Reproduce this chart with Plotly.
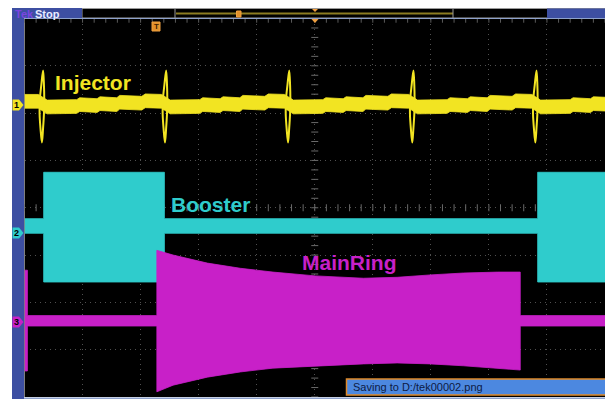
import plotly.graph_objects as go

# ---------------- data (screen divisions: x 0..10, y -4..4) ----------------
# Channel 1 : Injector (band centre level between kicks)
inj_t = [0.00, 0.24, 0.39, 0.90, 0.95, 1.25, 1.30, 1.59, 1.64, 2.02, 2.08, 2.36,
         2.51, 3.02, 3.07, 3.37, 3.42, 3.71, 3.76, 4.14, 4.20, 4.48,
         4.63, 5.14, 5.19, 5.49, 5.54, 5.83, 5.88, 6.26, 6.32, 6.62,
         6.77, 7.28, 7.33, 7.63, 7.68, 7.97, 8.02, 8.40, 8.46, 8.74,
         8.89, 9.40, 9.45, 9.75, 9.80, 10.0]
inj_v = [2.25, 2.25, 2.13, 2.14, 2.18, 2.16, 2.20, 2.18, 2.23, 2.21, 2.26, 2.25,
         2.13, 2.14, 2.18, 2.16, 2.20, 2.18, 2.23, 2.21, 2.26, 2.25,
         2.13, 2.14, 2.18, 2.16, 2.20, 2.18, 2.23, 2.21, 2.26, 2.25,
         2.13, 2.14, 2.18, 2.16, 2.20, 2.18, 2.23, 2.21, 2.26, 2.25,
         2.13, 2.14, 2.18, 2.16, 2.20, 2.19]
inj_noise = 0.145
inj_kick_t = [0.30, 2.42, 4.54, 6.68, 8.80]
inj_kick_top = 2.90
inj_kick_bottom = 1.38

# Channel 2 : Booster envelope
boo_t  = [0.00, 0.33, 0.33, 2.41, 2.41, 8.84, 8.84, 10.0]
boo_hi = [-0.23, -0.23, 0.75, 0.75, -0.23, -0.23, 0.75, 0.75]
boo_lo = [-0.54, -0.54, -1.57, -1.57, -0.54, -0.54, -1.57, -1.57]

# Channel 3 : MainRing envelope
mr_t  = [0.00, 0.05, 0.05, 2.28, 2.28, 2.56, 3.15, 3.72, 4.28, 5.01, 5.84, 6.42,
         6.99, 7.56, 8.15, 8.54, 8.54, 10.0]
mr_hi = [-1.32, -1.32, -2.28, -2.28, -0.90, -1.00, -1.17, -1.28, -1.36, -1.44,
         -1.49, -1.47, -1.42, -1.38, -1.36, -1.36, -2.28, -2.28]
mr_lo = [-3.45, -3.45, -2.50, -2.50, -3.89, -3.75, -3.58, -3.47, -3.39, -3.34,
         -3.30, -3.28, -3.30, -3.34, -3.39, -3.43, -2.50, -2.50]

labels = ["Injector", "Booster", "MainRing"]
status_text = "Saving to D:/tek00002.png"

YEL = "#f2e422"
CYA = "#2fcccc"
MAG = "#c820c8"
PANEL = "#3d4fa2"

W, H = 605, 399
def X(px): return px / W
def Y(py): return 1 - py / H

fig = go.Figure()

def band(t, hi, lo, color):
    xs = list(t) + list(reversed(t))
    ys = list(hi) + list(reversed(lo))
    fig.add_trace(go.Scatter(x=xs, y=ys, fill="toself", fillcolor=color,
                             mode="lines", line=dict(color=color, width=0.8),
                             hoverinfo="skip", showlegend=False))

# graticule centre ticks
cx = [i * 0.2 for i in range(51)]
cy = [-4 + i * 0.2 for i in range(41)]
fig.add_trace(go.Scatter(x=cx, y=[0] * len(cx), mode="markers",
                         marker=dict(symbol="line-ns", size=5, line=dict(color="#6a6a6a", width=1)),
                         hoverinfo="skip", showlegend=False))
fig.add_trace(go.Scatter(x=[5] * len(cy), y=cy, mode="markers",
                         marker=dict(symbol="line-ew", size=5, line=dict(color="#6a6a6a", width=1)),
                         hoverinfo="skip", showlegend=False))
# border ticks (top edge)
fig.add_trace(go.Scatter(x=cx, y=[3.97] * len(cx), mode="markers",
                         marker=dict(symbol="line-ns", size=4, line=dict(color="#5a5a5a", width=1)),
                         hoverinfo="skip", showlegend=False))

band(boo_t, boo_hi, boo_lo, CYA)
band(mr_t, mr_hi, mr_lo, MAG)
band(inj_t, [v + inj_noise for v in inj_v], [v - inj_noise for v in inj_v], YEL)

# injector kicks (lens-shaped double strokes)
lens_dx = [0.02, -0.01, -0.035, -0.04, -0.025, 0.00, 0.02, 0.035, 0.04, 0.035, 0.02]
lens_dy = [1.0, 0.6, 0.2, -0.2, -0.6, -1.0, -0.6, -0.2, 0.2, 0.6, 1.0]
mid = (inj_kick_top + inj_kick_bottom) / 2
half = (inj_kick_top - inj_kick_bottom) / 2
kx, ky = [], []
for s in inj_kick_t:
    kx += [s + d for d in lens_dx] + [None]
    ky += [mid + d * half for d in lens_dy] + [None]
fig.add_trace(go.Scatter(x=kx, y=ky, mode="lines", line=dict(color=YEL, width=2, shape="spline"),
                         hoverinfo="skip", showlegend=False))

# channel labels
lab_font = dict(family="Liberation Sans, Arial, sans-serif", size=21)
for txt, xx, yy, col in [(labels[0], 1.18, 2.64, YEL), (labels[1], 3.21, 0.06, CYA),
                         (labels[2], 5.59, -1.16, MAG)]:
    fig.add_annotation(x=xx, y=yy, xref="x", yref="y", text="<b>%s</b>" % txt,
                       showarrow=False, font=dict(color=col, **lab_font))

shapes = []
# left panel strip + top bar
shapes.append(dict(type="rect", xref="paper", yref="paper", x0=X(12), x1=X(24), y0=0, y1=Y(8),
                   fillcolor=PANEL, line=dict(width=0), layer="above"))
shapes.append(dict(type="rect", xref="paper", yref="paper", x0=X(82), x1=1, y0=Y(18), y1=Y(8.5),
                   fillcolor="#000000", line=dict(color="#9a9a9a", width=1), layer="above"))
shapes.append(dict(type="rect", xref="paper", yref="paper", x0=X(12), x1=X(82), y0=Y(18), y1=Y(8),
                   fillcolor=PANEL, line=dict(width=0), layer="above"))
shapes.append(dict(type="rect", xref="paper", yref="paper", x0=X(547), x1=1, y0=Y(18), y1=Y(8.5),
                   fillcolor=PANEL, line=dict(width=0), layer="above"))
# record bar
shapes.append(dict(type="line", xref="paper", yref="paper", x0=X(176), x1=X(453), y0=Y(13.5), y1=Y(13.5),
                   line=dict(color="#8c7d22", width=2), layer="above"))
shapes.append(dict(type="line", xref="paper", yref="paper", x0=X(453), x1=X(453), y0=Y(18), y1=Y(8.5),
                   line=dict(color="#9a9a9a", width=1), layer="above"))
shapes.append(dict(type="line", xref="paper", yref="paper", x0=X(175), x1=X(175), y0=Y(18), y1=Y(8.5),
                   line=dict(color="#9a9a9a", width=1), layer="above"))
shapes.append(dict(type="rect", xref="paper", yref="paper", x0=X(236.5), x1=X(241), y0=Y(17), y1=Y(11),
                   fillcolor="#e0902a", line=dict(color="#f0a040", width=1), layer="above"))
# trigger position markers
shapes.append(dict(type="path", xref="paper", yref="paper",
                   path="M %f %f L %f %f L %f %f Z" % (X(312), Y(9), X(318), Y(9), X(315), Y(12)),
                   fillcolor="#f0a040", line=dict(width=0), layer="above"))
shapes.append(dict(type="path", xref="paper", yref="paper",
                   path="M %f %f L %f %f L %f %f Z" % (X(311), Y(18.5), X(319), Y(18.5), X(315), Y(23)),
                   fillcolor="#f0a040", line=dict(width=0), layer="above"))
# trigger "T" marker
shapes.append(dict(type="rect", xref="paper", yref="paper", x0=X(152), x1=X(160), y0=Y(31), y1=Y(22),
                   fillcolor="#e0902a", line=dict(color="#f0a040", width=1), layer="above"))
# plot border lines
shapes.append(dict(type="line", xref="paper", yref="paper", x0=X(24), x1=1, y0=Y(18.5), y1=Y(18.5),
                   line=dict(color="#8ea2cc", width=1), layer="above"))
shapes.append(dict(type="rect", xref="paper", yref="paper", x0=X(24), x1=1, y0=0, y1=Y(397.5),
                   fillcolor="#8ea2cc", line=dict(width=0), layer="above"))
# channel badges
for py, col in [(105, YEL), (233, CYA), (322, MAG)]:
    shapes.append(dict(type="path", xref="paper", yref="paper",
                       path="M %f %f L %f %f L %f %f L %f %f L %f %f Z" % (
                           X(12.5), Y(py - 5.5), X(19), Y(py - 5.5), X(23.5), Y(py),
                           X(19), Y(py + 5.5), X(12.5), Y(py + 5.5)),
                       fillcolor=col, line=dict(width=0), layer="above"))
# status box
shapes.append(dict(type="rect", xref="paper", yref="paper", x0=X(346.5), x1=X(606), y0=Y(395), y1=Y(379),
                   fillcolor="#4c88e0", line=dict(color="#e08a2a", width=1.5), layer="above"))

fig.update_layout(shapes=shapes)

small = dict(family="Liberation Sans, Arial, sans-serif")
fig.add_annotation(x=X(13), y=Y(13.5), xref="paper", yref="paper", xanchor="left", yanchor="middle",
                   text="<b>Tek</b>", showarrow=False,
                   font=dict(size=11, color="#7a44e0", **small))
fig.add_annotation(x=X(33), y=Y(13.5), xref="paper", yref="paper", xanchor="left", yanchor="middle",
                   text="<b>Stop</b>", showarrow=False, font=dict(size=11, color="#e8ecff", **small))
fig.add_annotation(x=X(156), y=Y(26.5), xref="paper", yref="paper", xanchor="center", yanchor="middle",
                   text="<b>T</b>", showarrow=False, font=dict(size=8, color="#402000", **small))
for py, num in [(105, "1"), (233, "2"), (322, "3")]:
    fig.add_annotation(x=X(16.5), y=Y(py), xref="paper", yref="paper", xanchor="center", yanchor="middle",
                       text="<b>%s</b>" % num, showarrow=False, font=dict(size=9, color="#000000", **small))
fig.add_annotation(x=X(351), y=Y(387), xref="paper", yref="paper", xanchor="left", yanchor="middle",
                   text=status_text, showarrow=False, font=dict(size=11, color="#0c1a44", **small))

fig.update_layout(
    width=W, height=H, autosize=False,
    margin=dict(l=0, r=0, t=0, b=0, pad=0),
    paper_bgcolor="#ffffff", plot_bgcolor="#000000",
    xaxis=dict(domain=[24.5 / W, 1], range=[0, 10], dtick=1, showticklabels=False,
               showgrid=True, gridcolor="#505050", griddash="1px,4px", gridwidth=1,
               zeroline=False, showline=False, ticks="", fixedrange=True),
    yaxis=dict(domain=[1 - 397 / H, 1 - 18.5 / H], range=[-4, 4], dtick=1, showticklabels=False,
               showgrid=True, gridcolor="#505050", griddash="1px,4px", gridwidth=1,
               zeroline=False, showline=False, fixedrange=True),
)

fig.write_html("out.html", config={"displayModeBar": False},
               post_script="document.body.style.margin='0px';document.body.style.overflow='hidden';")
